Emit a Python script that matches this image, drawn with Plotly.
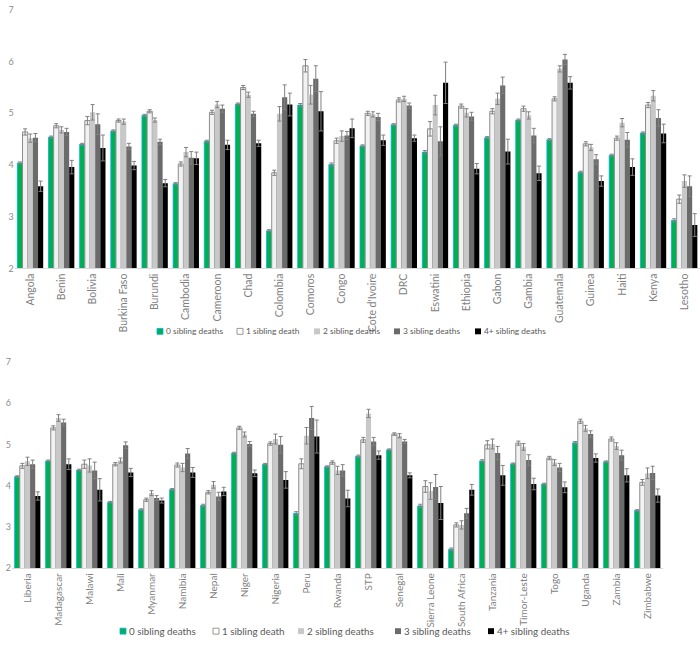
import plotly.graph_objects as go

series_names = ["0 sibling deaths", "1 sibling death", "2 sibling deaths", "3 sibling deaths", "4+ sibling deaths"]

countries_a = ["Angola", "Benin", "Bolivia", "Burkina Faso", "Burundi", "Cambodia", "Cameroon", "Chad",
               "Colombia", "Comoros", "Congo", "Cote d'Ivoire", "DRC", "Eswatini", "Ethiopia", "Gabon",
               "Gambia", "Guatemala", "Guinea", "Haiti", "Kenya", "Lesotho"]
a_s0 = [4.04, 4.54, 4.40, 4.66, 4.96, 3.64, 4.46, 5.18, 2.73, 5.16, 4.01, 4.37, 4.78, 4.25, 4.77, 4.53, 4.87, 4.49, 3.86, 4.19, 4.62, 2.93]
a_s1 = [4.64, 4.76, 4.86, 4.86, 5.04, 4.02, 5.02, 5.50, 3.85, 5.92, 4.47, 5.00, 5.26, 4.70, 5.14, 5.04, 5.09, 5.28, 4.41, 4.52, 5.16, 3.34]
a_s2 = [4.52, 4.68, 5.02, 4.84, 4.87, 4.25, 5.17, 5.36, 4.99, 5.36, 4.56, 4.98, 5.28, 5.16, 5.01, 5.28, 4.96, 5.86, 4.34, 4.82, 5.34, 3.69]
a_s3 = [4.53, 4.64, 4.79, 4.36, 4.45, 4.14, 5.09, 4.99, 5.31, 5.67, 4.57, 4.93, 5.15, 4.46, 4.94, 5.54, 4.57, 6.04, 4.11, 4.49, 4.91, 3.59]
a_s4 = [3.59, 3.96, 4.33, 3.99, 3.65, 4.13, 4.39, 4.42, 5.17, 5.04, 4.71, 4.48, 4.52, 5.59, 3.93, 4.26, 3.84, 5.59, 3.69, 3.96, 4.61, 2.84]
a_e0 = [0.02, 0.02, 0.02, 0.02, 0.02, 0.02, 0.02, 0.02, 0.02, 0.03, 0.03, 0.02, 0.02, 0.03, 0.02, 0.02, 0.02, 0.02, 0.02, 0.02, 0.02, 0.03]
a_e1 = [0.06, 0.04, 0.08, 0.03, 0.03, 0.04, 0.04, 0.04, 0.05, 0.12, 0.05, 0.04, 0.04, 0.14, 0.04, 0.05, 0.05, 0.04, 0.04, 0.04, 0.05, 0.08]
a_e2 = [0.08, 0.06, 0.15, 0.05, 0.04, 0.09, 0.06, 0.05, 0.14, 0.18, 0.10, 0.05, 0.05, 0.19, 0.08, 0.11, 0.07, 0.06, 0.06, 0.08, 0.10, 0.12]
a_e3 = [0.08, 0.07, 0.20, 0.06, 0.05, 0.12, 0.07, 0.05, 0.24, 0.25, 0.08, 0.07, 0.05, 0.28, 0.08, 0.16, 0.14, 0.10, 0.09, 0.14, 0.16, 0.20]
a_e4 = [0.10, 0.13, 0.25, 0.08, 0.07, 0.12, 0.09, 0.06, 0.22, 0.38, 0.18, 0.10, 0.06, 0.40, 0.10, 0.24, 0.14, 0.12, 0.10, 0.16, 0.18, 0.22]

countries_b = ["Liberia", "Madagascar", "Malawi", "Mali", "Myanmar", "Namibia", "Nepal", "Niger", "Nigeria",
               "Peru", "Rwanda", "STP", "Senegal", "Sierra Leone", "South Africa", "Tanzania", "Timor-Leste",
               "Togo", "Uganda", "Zambia", "Zimbabwe"]
b_s0 = [4.22, 4.60, 4.38, 3.60, 3.42, 3.91, 3.52, 4.79, 4.52, 3.33, 4.46, 4.71, 4.87, 3.51, 2.46, 4.60, 4.53, 4.04, 5.04, 4.58, 3.40]
b_s1 = [4.48, 5.40, 4.52, 4.52, 3.66, 4.50, 3.84, 5.40, 5.02, 4.53, 4.56, 5.11, 5.25, 3.98, 3.05, 4.99, 5.03, 4.67, 5.56, 5.13, 4.08]
b_s2 = [4.59, 5.64, 4.49, 4.61, 3.82, 4.44, 4.02, 5.24, 5.13, 5.21, 4.37, 5.75, 5.21, 3.87, 3.05, 5.01, 4.94, 4.56, 5.39, 4.96, 4.30]
b_s3 = [4.52, 5.53, 4.37, 4.98, 3.70, 4.78, 3.74, 5.01, 4.99, 5.64, 4.37, 5.07, 5.07, 3.97, 3.33, 4.79, 4.62, 4.44, 5.25, 4.74, 4.31]
b_s4 = [3.75, 4.52, 3.90, 4.32, 3.64, 4.32, 3.86, 4.30, 4.14, 5.19, 3.69, 4.74, 4.25, 3.58, 3.90, 4.25, 4.04, 3.96, 4.67, 4.25, 3.76]
b_e0 = [0.02, 0.02, 0.02, 0.02, 0.02, 0.02, 0.03, 0.02, 0.02, 0.04, 0.02, 0.03, 0.02, 0.04, 0.03, 0.03, 0.02, 0.02, 0.03, 0.02, 0.02]
b_e1 = [0.06, 0.05, 0.10, 0.04, 0.04, 0.05, 0.04, 0.04, 0.04, 0.12, 0.04, 0.06, 0.03, 0.14, 0.05, 0.10, 0.05, 0.04, 0.05, 0.05, 0.07]
b_e2 = [0.10, 0.08, 0.16, 0.06, 0.06, 0.10, 0.08, 0.06, 0.12, 0.20, 0.10, 0.10, 0.05, 0.20, 0.10, 0.12, 0.08, 0.07, 0.07, 0.08, 0.13]
b_e3 = [0.10, 0.08, 0.20, 0.08, 0.06, 0.12, 0.10, 0.06, 0.20, 0.28, 0.14, 0.10, 0.05, 0.30, 0.12, 0.16, 0.13, 0.10, 0.08, 0.12, 0.16]
b_e4 = [0.10, 0.13, 0.27, 0.10, 0.06, 0.12, 0.10, 0.08, 0.20, 0.40, 0.20, 0.10, 0.06, 0.40, 0.13, 0.24, 0.14, 0.13, 0.10, 0.16, 0.16]

fills = ["#00B050", "#F2F2F2", "#C8C8C8", "#6B6B6B", "#000000"]
lines = ["#00B0F0", "#8C8C8C", "#C8C8C8", "#6B6B6B", "#000000"]
line_w = [0.8, 1.0, 0, 0, 0]
FONT = "Lato, 'Open Sans', sans-serif"
W, H = 700, 645

fig = go.Figure()

panels = [
    ("x", "y", countries_a, [a_s0, a_s1, a_s2, a_s3, a_s4], [a_e0, a_e1, a_e2, a_e3, a_e4]),
    ("x2", "y2", countries_b, [b_s0, b_s1, b_s2, b_s3, b_s4], [b_e0, b_e1, b_e2, b_e3, b_e4]),
]
for xa, ya, cats, vals, errs in panels:
    for i, name in enumerate(series_names):
        fig.add_trace(go.Bar(
            x=cats, y=vals[i], name=name, xaxis=xa, yaxis=ya, showlegend=False,
            marker=dict(color=fills[i], line=dict(color=lines[i], width=line_w[i])),
            error_y=dict(type="data", array=errs[i], visible=True, color="#808080",
                         thickness=1, width=2),
        ))

# custom legends (square swatch + text), positioned in pixels
shapes, annotations = [], []
legend_specs = [
    (331, [157, 237, 314, 394, 475], 6, 8.4),
    (636, [120, 213, 298, 395, 488], 6, 9.8),
]
for ly, xs, sq, fsize in legend_specs:
    for i, name in enumerate(series_names):
        x0 = xs[i]
        shapes.append(dict(type="rect", xref="paper", yref="paper",
                           x0=x0 / W, x1=(x0 + sq) / W,
                           y0=1 - (ly + sq / 2) / H, y1=1 - (ly - sq / 2) / H,
                           fillcolor=fills[i] if i != 1 else "#FFFFFF",
                           line=dict(color=lines[i] if i != 1 else "#7F7F7F", width=0.8 if i in (0, 1) else 0)))
        annotations.append(dict(text=name, xref="paper", yref="paper",
                                x=(x0 + sq + 1) / W, y=1 - ly / H, xanchor="left", yanchor="middle",
                                showarrow=False, font=dict(family=FONT, size=fsize, color="#595959")))

axis_x = dict(showgrid=False, showline=True, linecolor="#D9D9D9", linewidth=1,
              ticks="", tickangle=-90)
axis_y = dict(range=[2, 7], tickvals=[2, 3, 4, 5, 6, 7], showgrid=False, showline=False,
              zeroline=False, ticks="", tickfont=dict(family=FONT, size=9, color="#8C8C8C"))

fig.update_layout(
    width=W, height=H,
    margin=dict(l=0, r=0, t=0, b=0),
    paper_bgcolor="white", plot_bgcolor="white",
    barmode="group", bargap=0.17, bargroupgap=0,
    font=dict(family=FONT, color="#595959"),
    showlegend=False,
    xaxis=dict(domain=[14.7 / W, 1.0], anchor="y",
               tickfont=dict(family=FONT, size=10.5, color="#7F7F7F"), **axis_x),
    yaxis=dict(domain=[1 - 267 / H, 1 - 4 / H], anchor="x", **axis_y),
    xaxis2=dict(domain=[12 / W, 663 / W], anchor="y2",
                tickfont=dict(family=FONT, size=10, color="#7F7F7F"), **axis_x),
    yaxis2=dict(domain=[1 - 572 / H, 1 - 362 / H], anchor="x2", **axis_y),
    shapes=shapes,
    annotations=annotations,
)

fig.write_html("out.html", config={"displayModeBar": False},
               post_script="document.body.style.margin='0';document.body.style.overflow='hidden';")
